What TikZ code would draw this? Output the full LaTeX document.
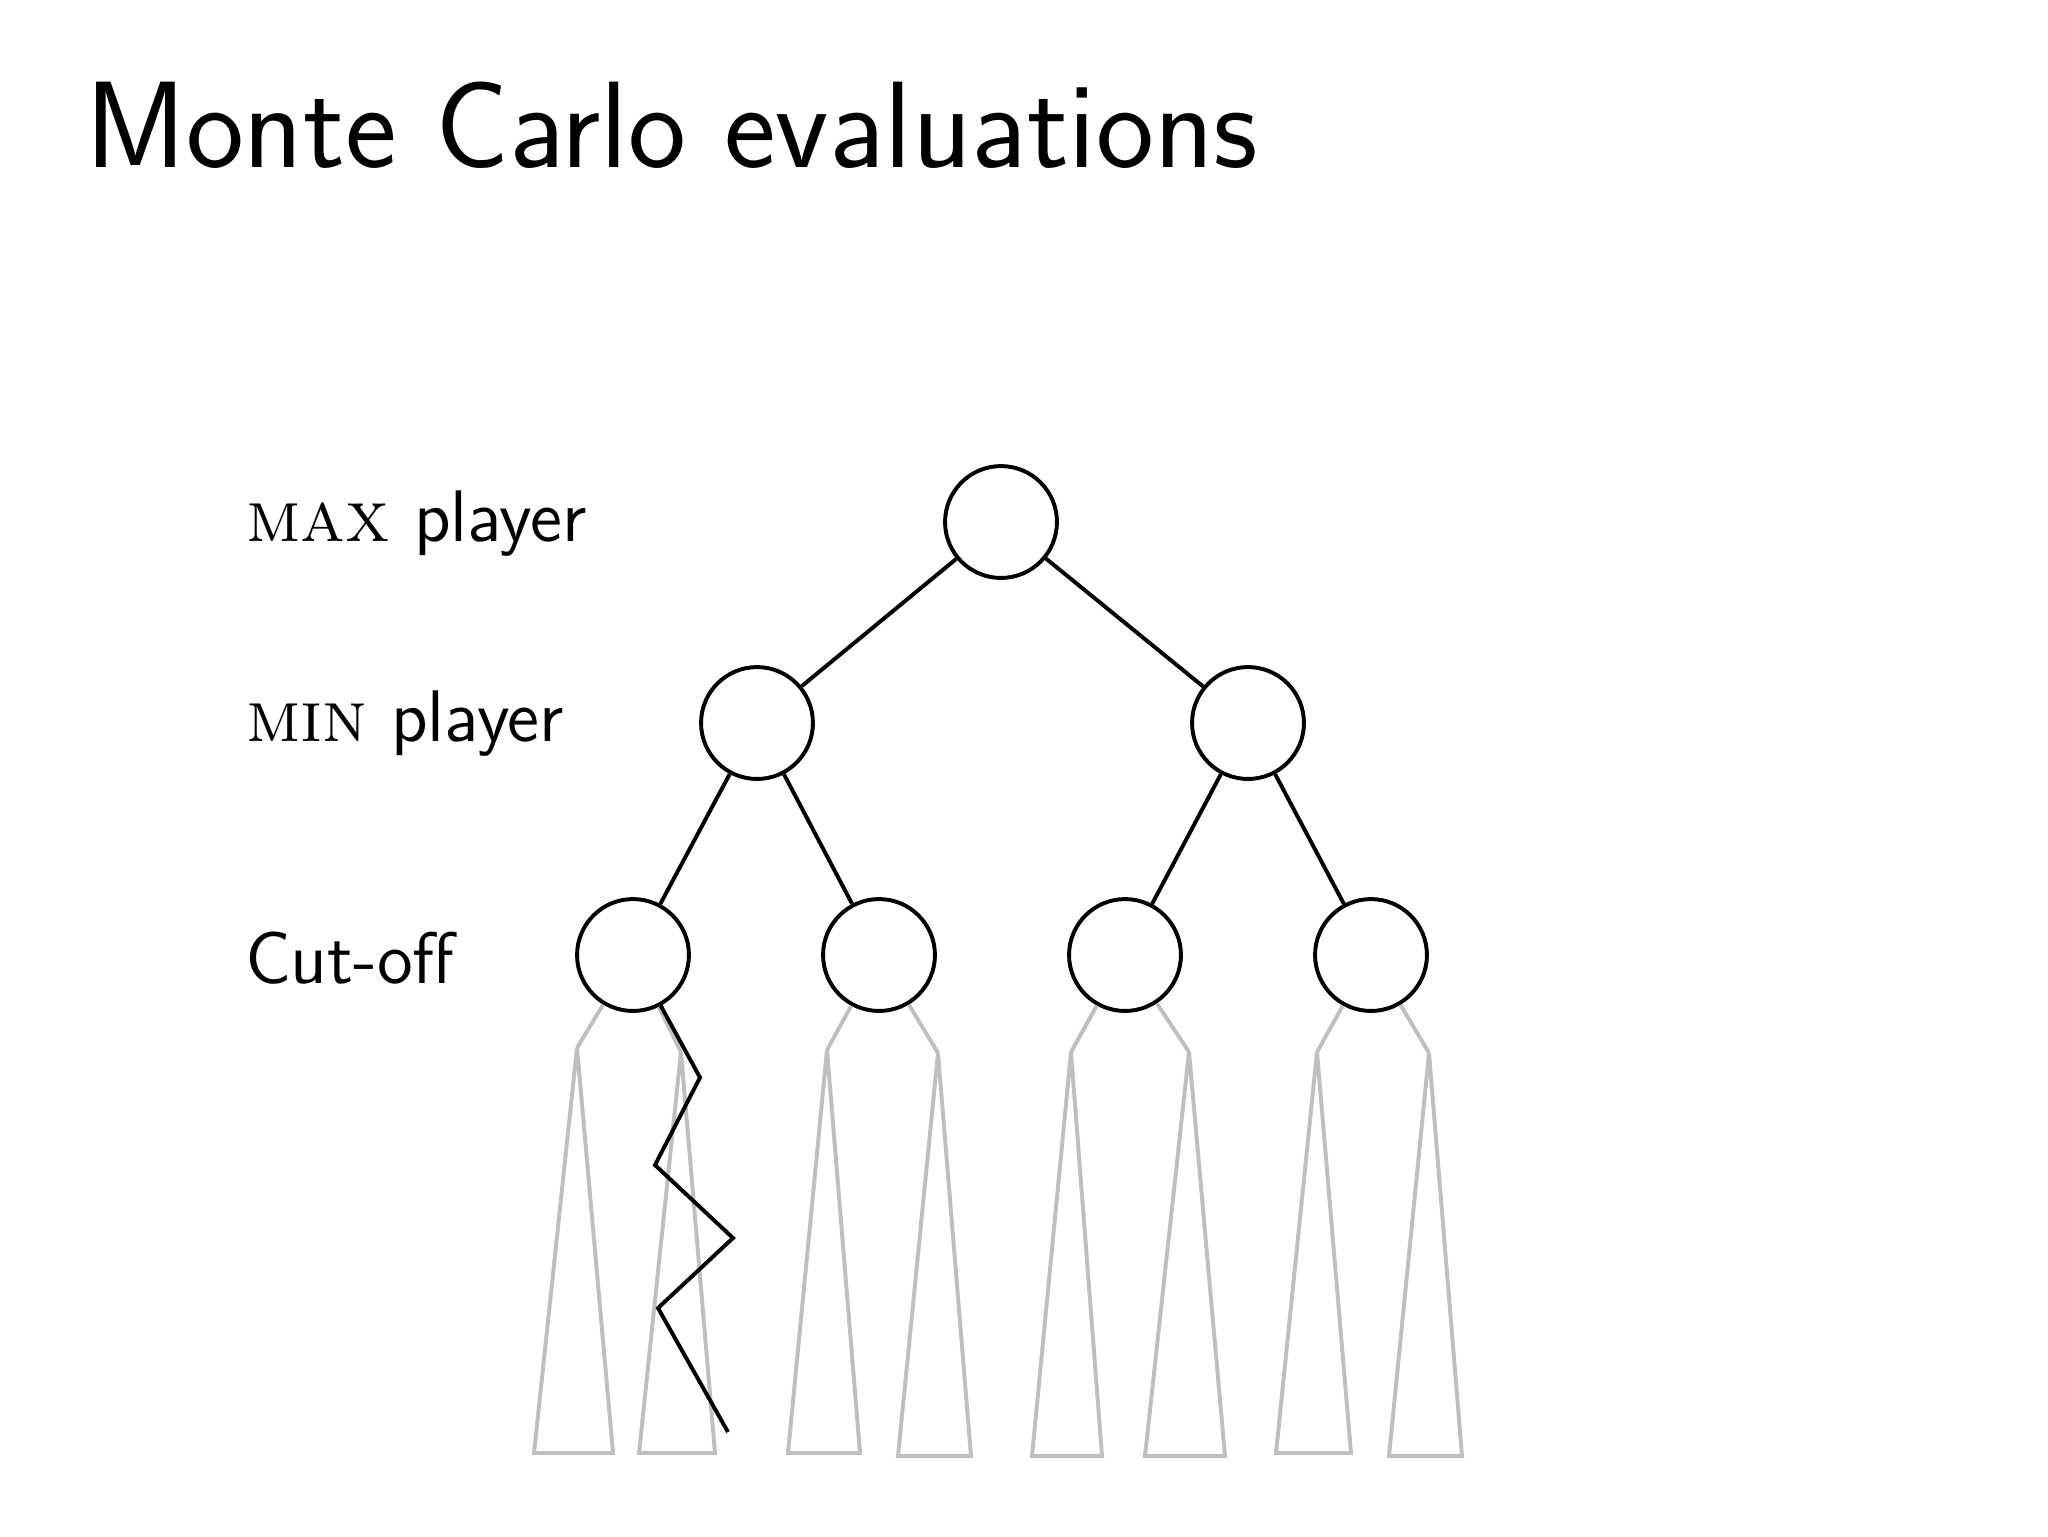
\documentclass[tikz,border=0pt]{standalone}
\usepackage{tikz}
\begin{document}
\begin{tikzpicture}[x=0.00625cm,y=-0.00625cm,
  gamenode/.style={circle,draw=black,line width=0.7pt,minimum size=0.7cm,inner sep=0pt},
  edge/.style={draw=black,line width=0.7pt},
  sub/.style={draw=black!25,line width=0.7pt,line join=miter},
  walk/.style={draw=black,line width=0.7pt,line join=miter},
  lbl/.style={anchor=base west,inner sep=0pt,font=\fontsize{13}{15.5}\selectfont\sffamily},
  ttl/.style={anchor=base west,inner sep=0pt,font=\fontsize{21.9}{26}\selectfont\sffamily}]
\useasboundingbox (0,0) rectangle (2048,1536);
% title
\node[ttl] (title) at (84,167) {Monte Carlo evaluations};
% labels
\node[lbl] (lmax) at (245,541) {\textrm{\textsc{max}} player};
\node[lbl] (lmin) at (245,741) {\textrm{\textsc{min}} player};
\node[lbl] (lcut) at (244,983) {Cut-off};
% tree nodes
\node[gamenode] (r) at (1001,522) {};
\node[gamenode] (m1) at (757,723) {};
\node[gamenode] (m2) at (1248,723) {};
\node[gamenode] (c1) at (633,955) {};
\node[gamenode] (c2) at (879,955) {};
\node[gamenode] (c3) at (1125,955) {};
\node[gamenode] (c4) at (1371,955) {};
% tree edges
\draw[edge] (r) -- (m1);
\draw[edge] (r) -- (m2);
\draw[edge] (m1) -- (c1);
\draw[edge] (m1) -- (c2);
\draw[edge] (m2) -- (c3);
\draw[edge] (m2) -- (c4);
% subtree apexes
\coordinate (a1) at (577,1048);
\coordinate (a2) at (681,1052);
\coordinate (a3) at (827,1050);
\coordinate (a4) at (938,1053);
\coordinate (a5) at (1071,1052);
\coordinate (a6) at (1189,1052);
\coordinate (a7) at (1317,1052);
\coordinate (a8) at (1429,1053);
% connectors to subtrees
\draw[sub] (c1) -- (a1);
\draw[sub] (c1) -- (a2);
\draw[sub] (c2) -- (a3);
\draw[sub] (c2) -- (a4);
\draw[sub] (c3) -- (a5);
\draw[sub] (c3) -- (a6);
\draw[sub] (c4) -- (a7);
\draw[sub] (c4) -- (a8);
% subtrees
\draw[sub] (a1) -- (613,1453) -- (534,1453) -- cycle;
\draw[sub] (a2) -- (715,1453) -- (639,1453) -- cycle;
\draw[sub] (a3) -- (860,1453) -- (788,1453) -- cycle;
\draw[sub] (a4) -- (971,1456) -- (898,1456) -- cycle;
\draw[sub] (a5) -- (1102,1456) -- (1032,1456) -- cycle;
\draw[sub] (a6) -- (1225,1456) -- (1145,1456) -- cycle;
\draw[sub] (a7) -- (1351,1453) -- (1276,1453) -- cycle;
\draw[sub] (a8) -- (1462,1456) -- (1389,1456) -- cycle;
% random playout
\coordinate (z1) at (700,1077.5);
\coordinate (z2) at (655,1165);
\coordinate (z3) at (733,1238);
\coordinate (z4) at (658,1308);
\coordinate (z5) at (728,1432);
\draw[walk] (c1) -- (z1) -- (z2) -- (z3) -- (z4) -- (z5);
\end{tikzpicture}
\end{document}
